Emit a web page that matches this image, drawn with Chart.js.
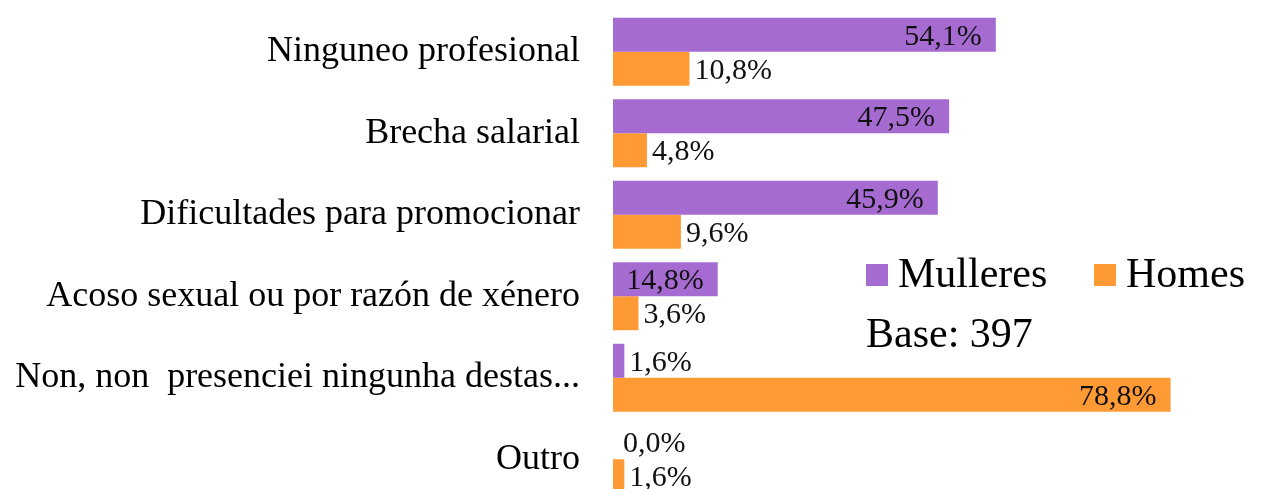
<!DOCTYPE html>
<html>
<head>
<meta charset="utf-8">
<script src="https://cdn.jsdelivr.net/npm/chart.js@4/dist/chart.umd.min.js"></script>
<style>
  html, body { margin: 0; padding: 0; background: #fff; overflow: hidden; }
  #wrap { width: 1281px; height: 500px; }
</style>
</head>
<body>
<div id="wrap"><canvas id="chart" width="1281" height="500"></canvas></div>
<script>
const categories = [
  'Ninguneo profesional',
  'Brecha salarial',
  'Dificultades para promocionar',
  'Acoso sexual ou por razón de xénero',
  'Non, non  presenciei ningunha destas...',
  'Outro'
];
const seriesNames = ['Mulleres', 'Homes'];
const mulleres = [54.1, 47.5, 45.9, 14.8, 1.6, 0.0];
const homes = [10.8, 4.8, 9.6, 3.6, 78.8, 1.6];
const baseText = 'Base: 397';

const PURPLE = '#a66bd1';
const ORANGE = '#ff9a35';
const FONT = '"Liberation Serif", "Times New Roman", serif';

const fmt = v => v.toFixed(1).replace('.', ',') + '%';

// value labels: inside end for long bars, just past the end for short ones
const valueLabels = {
  id: 'valueLabels',
  afterDatasetsDraw(chart) {
    const ctx = chart.ctx;
    ctx.save();
    ctx.font = '30px ' + FONT;
    ctx.fillStyle = '#111';
    ctx.textBaseline = 'middle';
    chart.data.datasets.forEach((ds, di) => {
      const meta = chart.getDatasetMeta(di);
      const limit = di === 0 ? 10 : 50;
      meta.data.forEach((bar, i) => {
        const v = ds.data[i];
        if (v >= limit) {
          ctx.textAlign = 'right';
          ctx.fillText(fmt(v), bar.x - 14, bar.y + 2);
        } else {
          ctx.textAlign = 'left';
          ctx.fillText(fmt(v), bar.x + (v === 0 ? 10 : 5), bar.y + 2);
        }
      });
    });
    ctx.restore();
  }
};

const legendBox = {
  id: 'legendBox',
  afterDraw(chart) {
    const ctx = chart.ctx;
    ctx.save();
    ctx.font = '42px ' + FONT;
    ctx.textBaseline = 'middle';
    ctx.textAlign = 'left';
    const items = [[866, PURPLE, seriesNames[0]], [1094, ORANGE, seriesNames[1]]];
    items.forEach(([x, col, name]) => {
      ctx.fillStyle = col;
      ctx.fillRect(x, 264, 22, 22);
      ctx.fillStyle = '#000';
      ctx.fillText(name, x + 32, 276);
    });
    ctx.fillText(baseText, 866, 336);
    ctx.restore();
  }
};

new Chart(document.getElementById('chart'), {
  type: 'bar',
  data: {
    labels: categories,
    datasets: [
      { label: seriesNames[0], data: mulleres, backgroundColor: PURPLE },
      { label: seriesNames[1], data: homes, backgroundColor: ORANGE }
    ]
  },
  options: {
    indexAxis: 'y',
    responsive: false,
    animation: false,
    events: [],
    datasets: { bar: { categoryPercentage: 0.834, barPercentage: 1, borderWidth: 0 } },
    layout: { padding: { top: 11, bottom: 0, left: 0, right: 17 } },
    plugins: { legend: { display: false }, tooltip: { enabled: false } },
    scales: {
      x: { display: false, min: 0, max: 92 },
      y: {
        grid: { display: false, drawTicks: false },
        border: { display: false },
        ticks: { color: '#000', padding: 33, font: { family: FONT, size: 36 } },
        afterFit(scale) {
          scale.width = 613;
          scale.paddingTop = 0;
          scale.paddingBottom = 0;
        }
      }
    }
  },
  plugins: [valueLabels, legendBox]
});
</script>
</body>
</html>
